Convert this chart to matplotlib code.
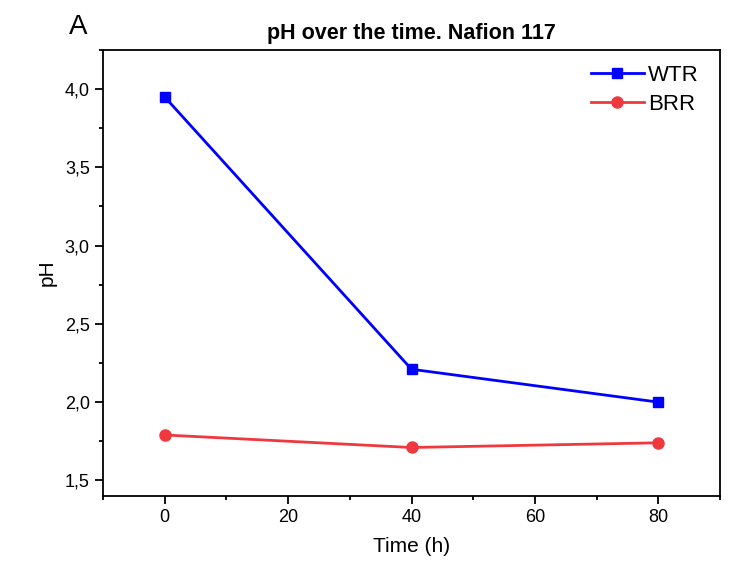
import matplotlib
matplotlib.use("Agg")
import matplotlib.pyplot as plt
from matplotlib.ticker import MultipleLocator, FuncFormatter

plt.rcParams['font.family'] = ['Liberation Sans', 'DejaVu Sans']

time_h = [0, 40, 80]
ph_wtr = [3.95, 2.21, 2.00]
ph_brr = [1.79, 1.71, 1.74]

fig = plt.figure(figsize=(7.3, 5.7), dpi=100)
ax = fig.add_axes([0.1411, 0.1298, 0.8452, 0.7825])

ax.plot(time_h, ph_wtr, color='#0000FF', lw=2, marker='s', ms=7, label='WTR')
ax.plot(time_h, ph_brr, color='#F0393F', lw=2, marker='o', ms=8, label='BRR')

ax.set_xlim(-10, 90)
ax.set_ylim(1.4, 4.25)
ax.xaxis.set_major_locator(MultipleLocator(20))
ax.xaxis.set_minor_locator(MultipleLocator(10))
ax.yaxis.set_major_locator(MultipleLocator(0.5))
ax.yaxis.set_minor_locator(MultipleLocator(0.25))
ax.yaxis.set_major_formatter(FuncFormatter(lambda v, p: f"{v:.1f}".replace('.', ',')))

ax.tick_params(which='major', direction='out', length=6, width=1.3, labelsize=13, top=False, right=False)
ax.tick_params(which='minor', direction='out', length=3, width=1.3, top=False, right=False)
for s in ax.spines.values():
    s.set_linewidth(1.3)

ax.set_xlabel('Time (h)', fontsize=15, labelpad=8)
ax.set_ylabel('pH', fontsize=15, labelpad=6)
ax.set_title('pH over the time. Nafion 117', fontsize=15.5, fontweight='bold', pad=8)
fig.text(0.107, 0.953, 'A', fontsize=20, ha='center', va='center')

ax.legend(loc='upper right', bbox_to_anchor=(0.9805, 0.9867), frameon=False,
          fontsize=16, handlelength=2.4, handletextpad=0.2, borderaxespad=0,
          labelspacing=0.35)

fig.savefig('out.png', dpi=100)
